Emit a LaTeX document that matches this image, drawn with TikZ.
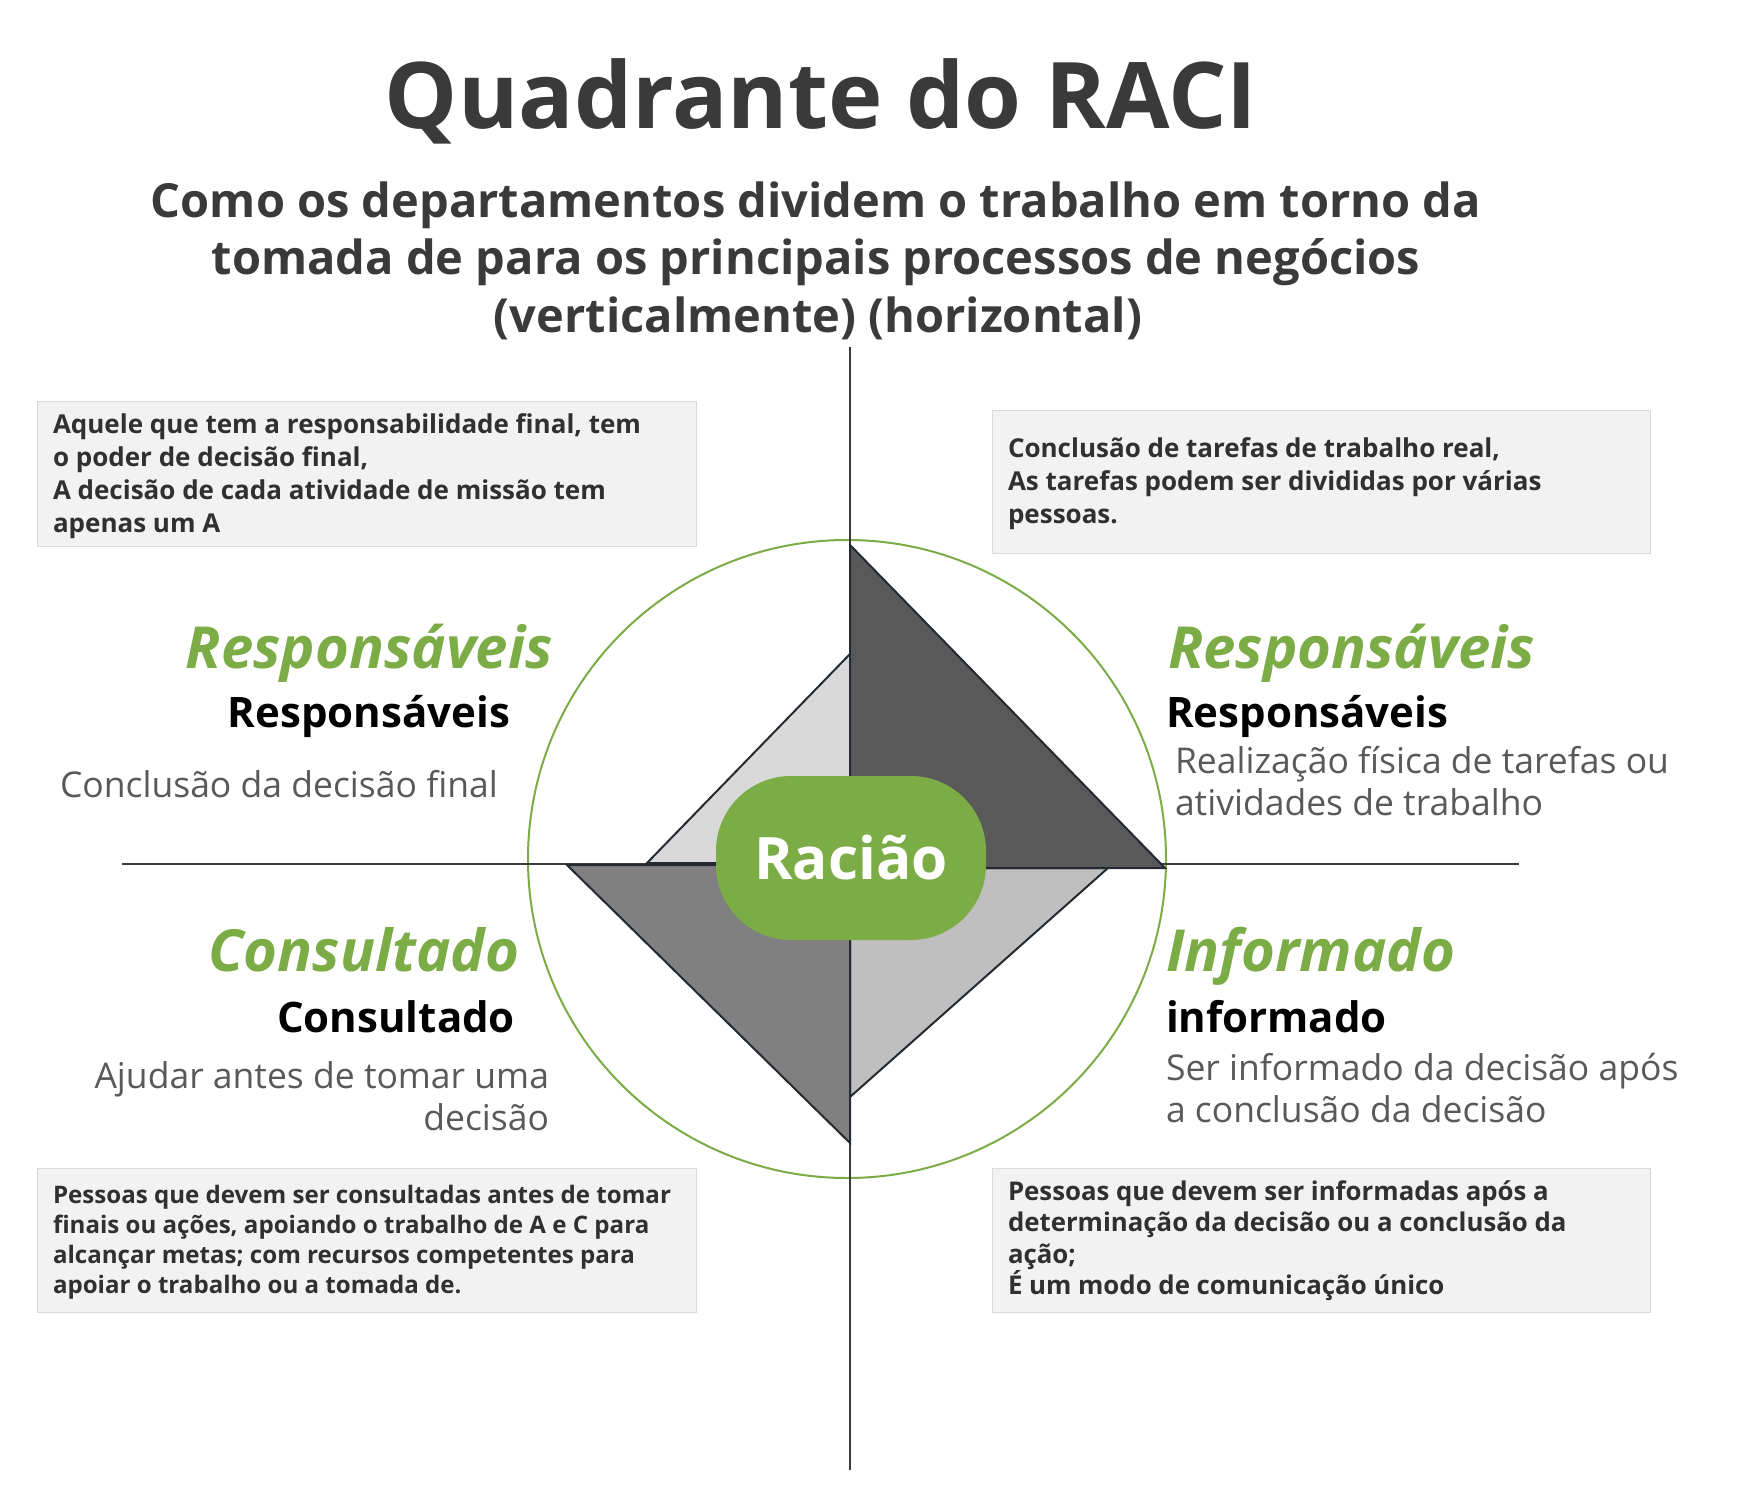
\documentclass[tikz,border=0pt]{standalone}
\usepackage{fontspec}
\setmainfont{Open Sans}
\definecolor{raciGreen}{HTML}{7BAC45}
\definecolor{titleGray}{HTML}{3A3A3A}
\definecolor{boxText}{HTML}{303030}
\definecolor{descGray}{HTML}{595959}
\definecolor{boxFill}{HTML}{F2F2F2}
\definecolor{axisGray}{HTML}{3C3C3C}
\definecolor{edgeDark}{HTML}{252A31}
\definecolor{triDark}{HTML}{595959}
\definecolor{triLight}{HTML}{D9D9D9}
\definecolor{triMid}{HTML}{808080}
\definecolor{triSoft}{HTML}{BFBFBF}
\newcommand\fsz[2]{\fontsize{#1pt}{#2pt}\selectfont}
\newcommand\LLines[1]{\vtop{\halign{##\hfil\cr#1\crcr}}}
\newcommand\RLines[1]{\vtop{\halign{\hfil##\cr#1\crcr}}}
\begin{document}
\begin{tikzpicture}[x=1pt,y=-1pt,
  inner sep=0pt, outer sep=0pt,
  titletext/.style={anchor=base, text=titleGray, font=\fsz{92}{110}\bfseries},
  subtext/.style={anchor=base, text=titleGray, font=\fsz{47}{57}\bfseries},
  infobox/.style={fill=boxFill, draw=boxFill!90!black, line width=0.6pt},
  boxtext/.style={anchor=base west, text=boxText, font=\fsz{26}{33}\bfseries},
  greenlabel/.style={text=raciGreen, font=\fsz{58}{68}\bfseries\itshape},
  blacklabel/.style={text=black, font=\fsz{42}{50}\bfseries},
  desctext/.style={text=descGray, font=\fsz{35.5}{42}},
  axisline/.style={draw=axisGray, line width=2pt},
  wedge/.style={draw=edgeDark, line width=2pt, line join=miter},
  pill/.style={fill=raciGreen, rounded corners=75pt, minimum width=270pt, minimum height=164pt, text=white, font=\fsz{58.5}{66}\bfseries}
]
\path[use as bounding box, fill=white] (0,0) rectangle (1749,1506);

% titles
\node[titletext] (title) at (821,129) {Quadrante do RACI};
\node[subtext] (sub1) at (816,218) {Como os departamentos dividem o trabalho em torno da};
\node[subtext] (sub2) at (816,275) {tomada de para os principais processos de negócios};
\node[subtext] (sub3) at (818,333) {(verticalmente) (horizontal)};

% info boxes
\path[infobox] (37,401) rectangle (696,546);
\path[infobox] (992,410) rectangle (1650,553);
\path[infobox] (37,1168) rectangle (696,1312);
\path[infobox] (992,1168) rectangle (1650,1312);

\node[boxtext] (tlbox) at (53,433) {\LLines{Aquele que tem a responsabilidade final, tem\cr o poder de decisão final,\cr A decisão de cada atividade de missão tem\cr apenas um A}};
\node[boxtext] (trbox) at (1008,457) {\LLines{Conclusão de tarefas de trabalho real,\cr As tarefas podem ser divididas por várias\cr pessoas.}};
\node[boxtext, font=\fsz{24.1}{30}\bfseries] (blbox) at (53,1203) {\LLines{Pessoas que devem ser consultadas antes de tomar\cr finais ou ações, apoiando o trabalho de A e C para\cr alcançar metas; com recursos competentes para\cr apoiar o trabalho ou a tomada de.}};
\node[boxtext, font=\fsz{25.8}{31.5}\bfseries] (brbox) at (1008,1200) {\LLines{Pessoas que devem ser informadas após a\cr determinação da decisão ou a conclusão da\cr ação;\cr É um modo de comunicação único}};

% circle and axes
\coordinate (cc) at (847,859);
\draw[raciGreen, line width=2pt] (cc) circle[radius=319pt];
\coordinate (axL) at (122,864);
\coordinate (axR) at (1519,864);
\coordinate (axT) at (850,347);
\coordinate (axB) at (850,1470);
\draw[axisline] (axL) -- (axR);
\draw[axisline] (axT) -- (axB);

% wedges
\coordinate (dTop) at (850,545);
\coordinate (dRight) at (1165,868);
\coordinate (dCorner) at (850,868);
\coordinate (lTop) at (850,654);
\coordinate (lLeft) at (647,863);
\coordinate (lCorner) at (850,863);
\coordinate (mLeft) at (567,865);
\coordinate (mBottom) at (850,1143);
\coordinate (mCorner) at (850,865);
\coordinate (sRight) at (1108,868);
\coordinate (sBottom) at (850,1097);
\coordinate (sCorner) at (850,868);
\draw[wedge, fill=triLight] (lTop) -- (lLeft) -- (lCorner) -- cycle;
\draw[wedge, fill=triSoft] (sRight) -- (sBottom) -- (sCorner) -- cycle;
\draw[wedge, fill=triMid] (mLeft) -- (mBottom) -- (mCorner) -- cycle;
\draw[wedge, fill=triDark] (dTop) -- (dRight) -- (dCorner) -- cycle;

% center
\node[pill] (center) at (851,858) {Racião};

% quadrant labels
\node[greenlabel, anchor=base east] (tlGreen) at (553,668) {Responsáveis};
\node[blacklabel, anchor=base east] (tlBlack) at (510,727) {Responsáveis};
\node[desctext, anchor=base west] (tlDesc) at (60,797) {Conclusão da decisão final};

\node[greenlabel, anchor=base west] (trGreen) at (1168,668) {Responsáveis};
\node[blacklabel, anchor=base west] (trBlack) at (1166,727) {Responsáveis};
\node[desctext, anchor=base west] (trDesc) at (1175,773) {\LLines{Realização física de tarefas ou\cr atividades de trabalho}};

\node[greenlabel, anchor=base east] (blGreen) at (519,971) {Consultado};
\node[blacklabel, anchor=base east] (blBlack) at (515,1032) {Consultado};
\node[desctext, anchor=base east] (blDesc) at (549,1088) {\RLines{Ajudar antes de tomar uma\cr decisão}};

\node[greenlabel, anchor=base west] (brGreen) at (1166,971) {Informado};
\node[blacklabel, anchor=base west] (brBlack) at (1166,1032) {informado};
\node[desctext, anchor=base west] (brDesc) at (1166,1080) {\LLines{Ser informado da decisão após\cr a conclusão da decisão}};
\end{tikzpicture}
\end{document}
